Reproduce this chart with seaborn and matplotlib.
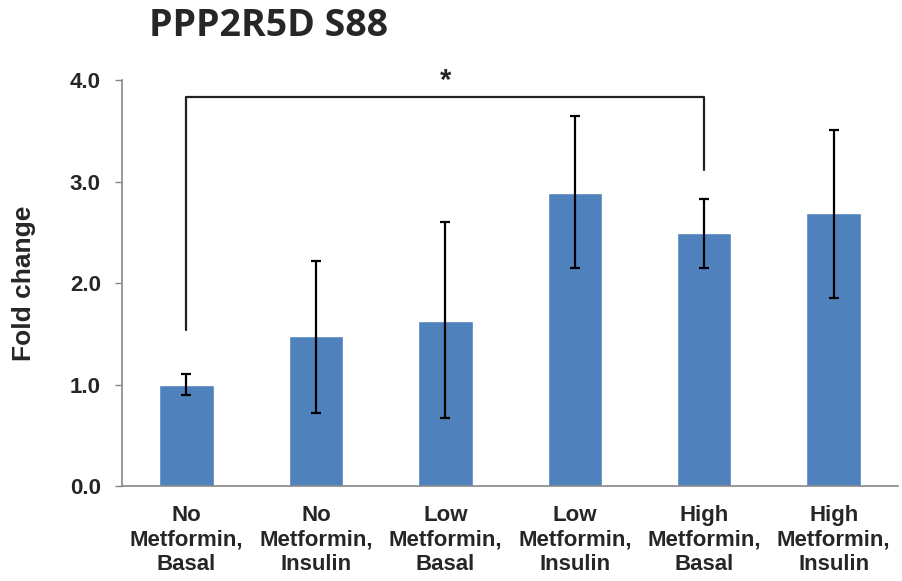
import numpy as np
import pandas as pd
import matplotlib
matplotlib.use("Agg")
import matplotlib.pyplot as plt
import seaborn as sns

# --- data ---
groups = ["No\nMetformin,\nBasal", "No\nMetformin,\nInsulin",
          "Low\nMetformin,\nBasal", "Low\nMetformin,\nInsulin",
          "High\nMetformin,\nBasal", "High\nMetformin,\nInsulin"]
fold_change = [1.00, 1.48, 1.63, 2.89, 2.49, 2.69]
err_low = [0.10, 0.76, 0.96, 0.74, 0.34, 0.84]
err_high = [0.10, 0.74, 0.97, 0.76, 0.34, 0.82]
yticks = [0.0, 1.0, 2.0, 3.0, 4.0]
# significance bracket: from group 0 to group 4
sig_pair = (0, 4)
sig_top = 3.83
sig_legs = (1.54, 3.11)

df = pd.DataFrame({"group": groups, "fold": fold_change})

sns.set_theme(style="white")
plt.rcParams['font.family'] = ['Liberation Sans', 'DejaVu Sans']

fig = plt.figure(figsize=(9.02, 5.81), dpi=100)
ax = fig.add_axes([0.135, 0.1635, 0.861, 0.6985])

sns.barplot(data=df, x="group", y="fold", color="#4F81BD", saturation=1,
            width=0.42, errorbar=None, ax=ax)
ax.errorbar(np.arange(len(groups)), fold_change, yerr=[err_low, err_high],
            fmt="none", ecolor="black", elinewidth=1.6, capsize=3.5, capthick=1.6)

# bracket + asterisk
x0, x1 = sig_pair
ax.plot([x0, x0, x1, x1], [sig_legs[0], sig_top, sig_top, sig_legs[1]],
        color="#222222", lw=1.6, clip_on=False)
ax.text((x0 + x1) / 2, sig_top + 0.02, "*", ha="center", va="bottom",
        fontsize=21, fontweight="bold", clip_on=False)

ax.set_ylim(0, 4)
ax.set_xlim(-0.5, len(groups) - 0.5)
ax.set_yticks(yticks)
ax.set_yticklabels([f"{v:.1f}" for v in yticks], fontsize=16, fontweight="bold")
ax.set_xticks(range(len(groups)))
ax.set_xticklabels(groups, fontsize=16, fontweight="bold", linespacing=1.2)
ax.set_xticks(np.arange(-0.5, len(groups), 1.0), minor=True)
ax.tick_params(axis="x", which="major", length=0, pad=14)
ax.tick_params(axis="x", which="minor", length=5, color="#888888", width=1)
ax.tick_params(axis="y", length=5, color="#888888", width=1, left=True, pad=10)

ax.set_xlabel("")
ax.set_ylabel("Fold change", fontsize=19, fontweight="bold")
ax.yaxis.set_label_coords(-0.11, 0.5)

for s in ["top", "right"]:
    ax.spines[s].set_visible(False)
for s in ["left", "bottom"]:
    ax.spines[s].set_color("#888888")
    ax.spines[s].set_linewidth(1.2)

fig.text(0.165, 0.955, "PPP2R5D S88", fontsize=27, fontweight="bold",
         family=['Open Sans', 'DejaVu Sans'], va="center", ha="left")

fig.savefig("out.png", dpi=100)
